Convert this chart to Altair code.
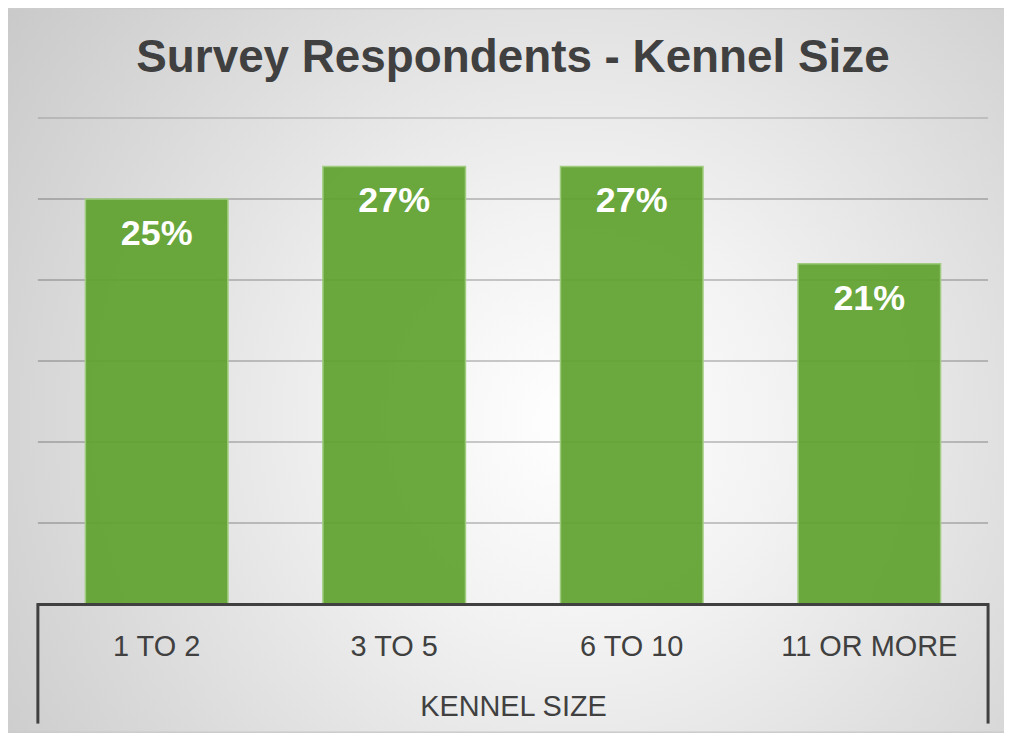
import altair as alt
import pandas as pd

categories = ["1 TO 2", "3 TO 5", "6 TO 10", "11 OR MORE"]
shares = [25, 27, 27, 21]
share_labels = ["25%", "27%", "27%", "21%"]
grid_ticks = [5, 10, 15, 20, 25]
top_tick = [30]

W, H = 954, 488
PAD = {"left": 30, "top": 109, "right": 16, "bottom": 128}
TXT = "#404040"
FONT = "Liberation Sans, Arial, sans-serif"

df = pd.DataFrame({"size": categories, "share": shares, "label": share_labels})
grid_df = pd.DataFrame({"v": grid_ticks})
top_df = pd.DataFrame({"v": top_tick})
one = pd.DataFrame({"k": [0]})

y_scale = alt.Scale(domain=[0, 30], nice=False)

bg = alt.Chart(one).mark_rect(
    color=alt.Gradient(
        gradient="radial",
        stops=[
            alt.GradientStop(color="#ffffff", offset=0),
            alt.GradientStop(color="#f2f2f2", offset=0.3),
            alt.GradientStop(color="#c8c8c8", offset=1),
        ],
        x1=0.57, y1=0.55, x2=0.57, y2=0.55, r1=0, r2=0.72,
    )
).encode(x=alt.value(-30), x2=alt.value(970), y=alt.value(-109), y2=alt.value(616))

grid = alt.Chart(grid_df).mark_rule(color="#000000", strokeOpacity=0.2, strokeWidth=2).encode(
    y=alt.Y("v:Q", scale=y_scale, axis=None),
    x=alt.value(0),
    x2=alt.value(W),
)
grid_top = alt.Chart(top_df).mark_rule(color="#000000", strokeOpacity=0.12, strokeWidth=2).encode(
    y=alt.Y("v:Q", scale=y_scale, axis=None),
    x=alt.value(0),
    x2=alt.value(W),
)

x_enc = alt.X(
    "size:N",
    sort=categories,
    scale=alt.Scale(paddingInner=0.4, paddingOuter=0.2),
    axis=alt.Axis(
        title="KENNEL SIZE",
        labelAngle=0,
        labelFont=FONT,
        labelFontSize=29,
        labelColor=TXT,
        labelBaseline="alphabetic",
        labelPadding=52,
        ticks=False,
        tickSize=0,
        domainColor=TXT,
        domainWidth=3,
        titleFont=FONT,
        titleFontSize=29,
        titleFontWeight="normal",
        titleColor=TXT,
        titleY=112,
        titleBaseline="alphabetic",
        zindex=2,
    ),
)

bars = alt.Chart(df).mark_bar(
    color="#5ea12e", fillOpacity=0.92, stroke="#9fcc7e", strokeWidth=1.5
).encode(x=x_enc, y=alt.Y("share:Q", scale=y_scale, axis=None))

labels = alt.Chart(df).mark_text(
    baseline="alphabetic",
    dy=46,
    font=FONT,
    fontSize=36,
    fontWeight="bold",
    color="white",
).encode(x=alt.X("size:N", sort=categories), y=alt.Y("share:Q"), text="label:N")

edge_left = alt.Chart(one).mark_rule(color=TXT, strokeWidth=3).encode(
    x=alt.value(0), y=alt.value(487), y2=alt.value(608)
)
edge_right = alt.Chart(one).mark_rule(color=TXT, strokeWidth=3).encode(
    x=alt.value(W), y=alt.value(487), y2=alt.value(608)
)

chart = (
    alt.layer(bg, grid, grid_top, bars, labels, edge_left, edge_right)
    .properties(
        width=W,
        height=H,
        padding=PAD,
        autosize="none",
        title=alt.Title(
            "Survey Respondents - Kennel Size",
            font=FONT,
            fontSize=46,
            fontWeight="bold",
            color=TXT,
            anchor="middle",
            frame="group",
            baseline="alphabetic",
            offset=0,
            dy=109,
        ),
    )
    .configure_view(stroke=None)
    .configure(background="#cccccc")
)

chart.save("out.html", embed_options={"renderer": "svg", "actions": False})
